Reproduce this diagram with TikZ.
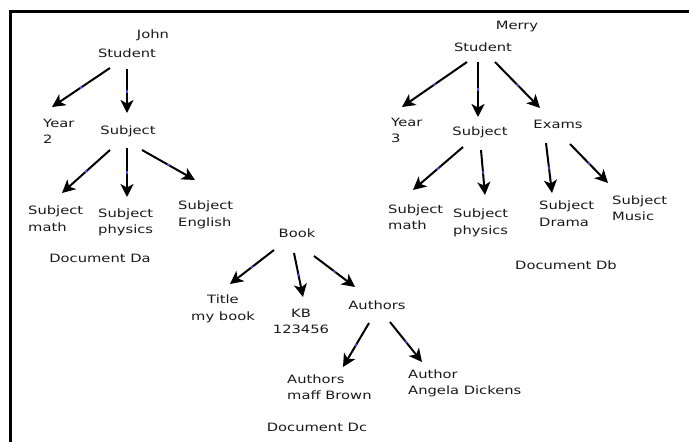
\documentclass[tikz,border=0pt]{standalone}
\usepackage{fontspec}
\setmainfont[FakeStretch=1.28]{DejaVu Sans}
\usetikzlibrary{arrows.meta, decorations.markings}

\begin{document}
\begin{tikzpicture}[x=1pt, y=-1pt, >={Stealth[length=13pt,width=13pt,inset=3.5pt]},
  font=\fontsize{11.5}{16.5}\selectfont,
  every node/.style={inner sep=0pt, text=black!90},
  txt/.style={align=left, anchor=west},
  ctr/.style={align=center},
  link/.style={->, line width=2pt, postaction={decorate},
    decoration={markings, mark=at position 0.5 with {\fill[blue!70] (-1.5pt,-0.7pt) rectangle (1.5pt,0.7pt);}}}]
\useasboundingbox (0,0) rectangle (689,442);
\draw[line width=3pt] (10,442) -- (10,11.5) -- (689,11.5);

% Document Da
\node (jnA) at (153,35) {John};
\node (stA) at (127,53) {Student};
\node[txt] (yrA) at (43,131.5) {Year\\2};
\node (sbA) at (128,131) {Subject};
\node[txt] (mtA) at (28,218.5) {Subject\\math};
\node[txt] (phA) at (98,222.5) {Subject\\physics};
\node[txt] (enA) at (178,215) {Subject\\English};
\node (docA) at (100,258) {Document Da};

% Document Db
\node (mrB) at (517,27) {Merry};
\node (stB) at (483,47) {Student};
\node[txt] (yrB) at (391,130.5) {Year\\3};
\node (sbB) at (480,132) {Subject};
\node (exB) at (558,124) {Exams};
\node[txt] (mtB) at (388,217) {Subject\\math};
\node[txt] (phB) at (453,223) {Subject\\physics};
\node[txt] (drB) at (539,213.5) {Subject\\Drama};
\node[txt] (muB) at (612,208) {Subject\\Music};
\node (docB) at (566,265) {Document Db};

% Document Dc
\node (bkC) at (297,233) {Book};
\node[ctr] (tiC) at (223,309) {Title\\my book};
\node[ctr] (kbC) at (301,321.5) {KB\\123456};
\node (auC) at (377,305) {Authors};
\node[txt] (mfC) at (287,387) {Authors\\maff Brown};
\node[txt] (agC) at (408,383.5) {Author\\Angela Dickens};
\node (docC) at (317,427) {Document Dc};

\draw[link] ([shift={(-17,15)}]stA.center) -- ([shift={(9,-24.5)}]yrA.west);
\draw[link] ([shift={(0,16)}]stA.center) -- ([shift={(-1,-18)}]sbA.center);
\draw[link] ([shift={(-18,19)}]sbA.center) -- ([shift={(34,-25.5)}]mtA.west);
\draw[link] ([shift={(-1,17)}]sbA.center) -- ([shift={(29,-25.5)}]phA.west);
\draw[link] ([shift={(14,19)}]sbA.center) -- ([shift={(17,-35)}]enA.west);

\draw[link] ([shift={(-16,15)}]stB.center) -- ([shift={(11,-23.5)}]yrB.west);
\draw[link] ([shift={(-5,15)}]stB.center) -- ([shift={(-2,-15)}]sbB.center);
\draw[link] ([shift={(12,15)}]stB.center) -- ([shift={(-18,-16)}]exB.center);
\draw[link] ([shift={(-17,15)}]sbB.center) -- ([shift={(25,-27)}]mtB.west);
\draw[link] ([shift={(1,18)}]sbB.center) -- ([shift={(32,-28)}]phB.west);
\draw[link] ([shift={(-12,19)}]exB.center) -- ([shift={(13,-20.5)}]drB.west);
\draw[link] ([shift={(12,20)}]exB.center) -- ([shift={(-4,-25)}]muB.west);

\draw[link] ([shift={(-23,17)}]bkC.center) -- ([shift={(7,-25)}]tiC.center);
\draw[link] ([shift={(-3,20)}]bkC.center) -- ([shift={(2,-24.5)}]kbC.center);
\draw[link] ([shift={(17,23)}]bkC.center) -- ([shift={(-22,-18)}]auC.center);
\draw[link] ([shift={(-8,18)}]auC.center) -- ([shift={(56,-20)}]mfC.west);
\draw[link] ([shift={(13,17)}]auC.center) -- ([shift={(14,-21.5)}]agC.west);
\end{tikzpicture}
\end{document}
